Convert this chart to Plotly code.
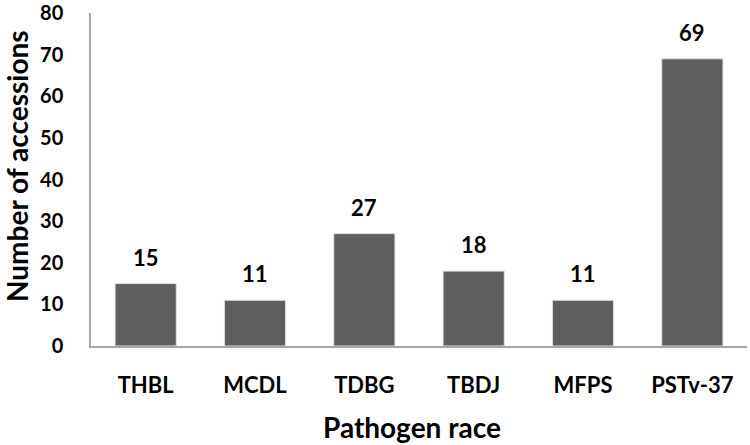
import plotly.graph_objects as go

races = ["THBL", "MCDL", "TDBG", "TBDJ", "MFPS", "PSTv-37"]
accessions = [15, 11, 27, 18, 11, 69]
y_ticks = [0, 10, 20, 30, 40, 50, 60, 70, 80]

FONT = "Lato"
W, H = 750, 445
ML, MR, MT, MB = 91, 3, 13, 99

fig = go.Figure()
fig.add_trace(go.Bar(
    x=races, y=accessions,
    marker=dict(color="#5f5f5f", line=dict(color="#e3e3e3", width=1)),
    hoverinfo="x+y",
))
for r, v in zip(races, accessions):
    fig.add_annotation(x=r, y=v, text=f"<b>{v}</b>", showarrow=False,
                       yanchor="bottom", yshift=11,
                       font=dict(family=FONT, size=22, color="black"))

# axis titles as annotations (positioned relative to the whole chart area)
ph = H - MT - MB
pw = W - ML - MR
fig.add_annotation(text="<b>Number of accessions</b>", textangle=-90,
                   xref="paper", yref="paper",
                   x=(17 - ML) / pw, y=(H - MB - 166) / ph,
                   xanchor="center", yanchor="middle", showarrow=False,
                   font=dict(family=FONT, size=28, color="black"))
fig.add_annotation(text="<b>Pathogen race</b>",
                   xref="paper", yref="paper",
                   x=(412 - ML) / pw, y=(H - MB - 427) / ph,
                   xanchor="center", yanchor="middle", showarrow=False,
                   font=dict(family=FONT, size=28, color="black"))

fig.update_layout(
    width=W, height=H,
    margin=dict(l=ML, r=MR, t=MT, b=MB),
    paper_bgcolor="white", plot_bgcolor="white",
    bargap=0.44,
    showlegend=False,
    font=dict(family=FONT, color="black"),
)
fig.update_xaxes(
    automargin=False,
    showline=True, linecolor="#a6a6a6", linewidth=1.5,
    ticks="", showgrid=False,
    tickfont=dict(family=FONT, size=22, weight="bold"),
    ticklabelstandoff=19,
)
fig.update_yaxes(
    automargin=False,
    range=[0, 80], tickvals=y_ticks,
    showline=True, linecolor="#a6a6a6", linewidth=1.5,
    ticks="", showgrid=False, zeroline=False,
    tickfont=dict(family=FONT, size=20, weight="bold"),
    ticklabelstandoff=22,
)
fig.write_html("out.html", config={"displayModeBar": False},
               post_script="document.body.style.margin='0';document.body.style.overflow='hidden';")
